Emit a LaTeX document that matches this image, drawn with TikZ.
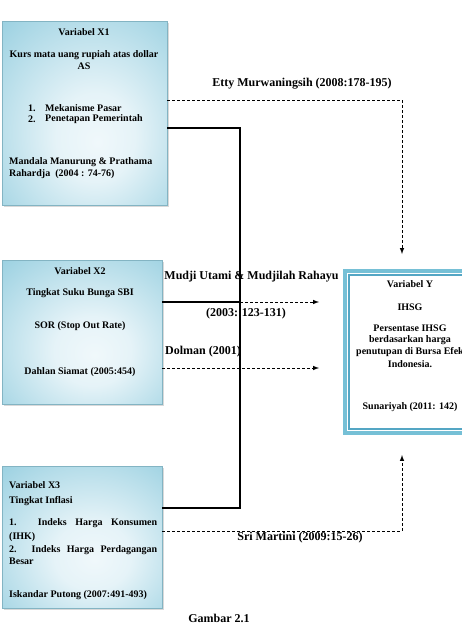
\documentclass[tikz,border=0pt]{standalone}
\usepackage{fontspec}
\setmainfont{Liberation Serif}
\usetikzlibrary{shadows}

\definecolor{boxedge}{RGB}{132,198,218}
\definecolor{boxmid}{RGB}{240,248,251}
\definecolor{frameblue}{RGB}{118,192,214}
\definecolor{framein}{RGB}{84,166,196}

% soft glow, light towards the lower middle
\pgfdeclareradialshading{boxglow}{\pgfpoint{4bp}{-8bp}}{%
  color(0bp)=(boxmid); color(12bp)=(boxmid!90!boxedge); color(48bp)=(boxedge); color(70bp)=(boxedge!90!black)}

\tikzset{
  varbox/.style={draw=boxedge!75!gray, line width=0.6pt, shading=boxglow,
    drop shadow={shadow xshift=1.5pt, shadow yshift=-1.5pt, opacity=0.3}},
  txt/.style={font=\fontsize{10}{12}\selectfont\bfseries, inner sep=0pt},
  lbl/.style={font=\fontsize{12}{14}\selectfont\bfseries, inner sep=0pt},
  thickline/.style={line width=2.8pt},
  dashline/.style={line width=1pt, dash pattern=on 3pt off 2pt},
}

\begin{document}
\begin{tikzpicture}[x=1pt, y=-1pt]
 \useasboundingbox (0,0) rectangle (462,637);
 \clip (0,0) rectangle (462,637);

 %variabel X1
 \node[varbox, minimum width=165pt, minimum height=184pt] (x1) at (84.5,113) {};
 \node[txt] (x1title) at (84,32) {Variabel X1};
 \node[txt, align=center] (x1name) at (84,60) {Kurs mata uang rupiah atas dollar\\AS};
 \foreach \yy/\nr/\txt in {108/1./Mekanisme Pasar, 119/2./Penetapan Pemerintah} {
   \node[txt, anchor=west] (x1nr\yy) at (28,\yy) {\nr};
   \node[txt, anchor=west] (x1it\yy) at (45,\yy) {\txt};
 }
 \node[txt, anchor=west, align=left] (x1src) at (9,168) {Mandala Manurung \& Prathama\\Rahardja~~(2004 : 74-76)};

 %variabel X2
 \node[varbox, minimum width=160pt, minimum height=144pt] (x2) at (82,332) {};
 \foreach \yy/\txt in {271/Variabel X2, 293/Tingkat Suku Bunga SBI, 326/{SOR (Stop Out Rate)}, 372/{Dahlan Siamat (2005:454)}} {
   \node[txt] (x2line\yy) at (80,\yy) {\txt};
 }

 %variabel X3
 \node[varbox, minimum width=160pt, minimum height=142pt] (x3) at (82,537) {};
 \foreach \yy/\txt in {485/Variabel X3, 501/Tingkat Inflasi, 537/(IHK), 561/Besar, 595/{Iskandar Putong (2007:491-493)}} {
   \node[txt, anchor=west] (x3line\yy) at (9,\yy) {\txt};
 }
 \node[txt, anchor=west] (x3line523) at (9,523) {\makebox[148pt][s]{1. Indeks Harga Konsumen}};
 \node[txt, anchor=west] (x3line550) at (9,550) {\makebox[148pt][s]{2. Indeks Harga Perdagangan}};

 %variabel Y
 \node[draw=frameblue, line width=4pt, minimum width=145pt, minimum height=162pt] (y) at (417.5,352) {};
 \node[draw=framein, line width=1.2pt, minimum width=137pt, minimum height=154pt] (yin) at (y.center) {};
 \foreach \yy/\txt in {284/Variabel Y, 307/IHSG, 328/Persentase IHSG, 340/berdasarkan harga, 352/penutupan di Bursa Efek, 364/Indonesia., 407/{Sunariyah (2011: 142)}} {
   \node[txt] (yline\yy) at (410,\yy) {\txt};
 }

 %labels
 \node[lbl] (etty) at (302,84) {Etty Murwaningsih (2008:178-195)};
 \node[lbl] (mudji) at (251.5,277) {Mudji Utami \& Mudjilah Rahayu};
 \node[lbl] (mudjiyr) at (246,314) {(2003: 123-131)};
 \node[lbl, anchor=west] (dolman) at (165,352) {Dolman (2001)};
 \node[lbl] (sri) at (300,538) {Sri Martini (2009:15-26)};
 \node[lbl] (gambar) at (219,618) {Gambar 2.1};

 %joint line
 \coordinate (bustop) at (240,128);
 \coordinate (busmid) at (240,302);
 \coordinate (busbot) at (240,508);
 \draw[thickline] (x1.east |- bustop) -- (bustop) -- (busbot) -- (x3.east |- busbot);
 \draw[thickline] (x2.east |- busmid) -- (busmid);

 %arrows
 \coordinate (mudjiend) at (319,302);
 \coordinate (dolmanend) at (319,368);
 \coordinate (ettytop) at (402,100);
 \coordinate (ettyend) at (402,254);
 \coordinate (sribot) at (402,531);
 \coordinate (sriend) at (402,455);
 \draw[dashline, -latex] (busmid) -- (mudjiend);
 \draw[dashline, -latex] (x2.east |- dolmanend) -- (dolmanend);
 \draw[dashline, -latex] (x1.east |- ettytop) -- (ettytop) -- (ettyend);
 \draw[dashline, -latex] (x3.east |- sribot) -- (sribot) -- (sriend);

\end{tikzpicture}
\end{document}
